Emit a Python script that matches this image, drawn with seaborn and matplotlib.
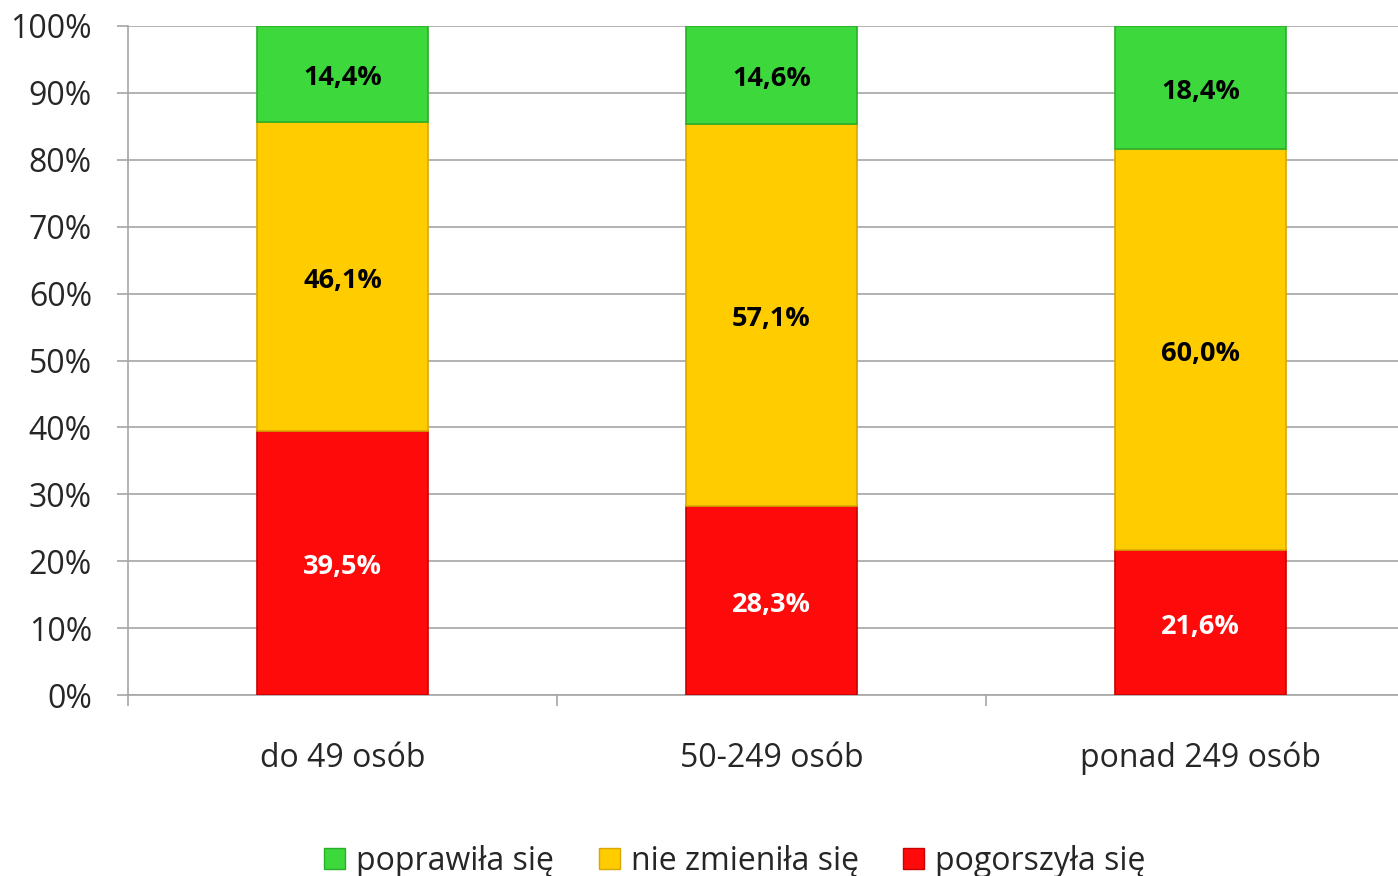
"""
Stacked 100% bar chart: change in situation by company size.
"""

import matplotlib
matplotlib.use("Agg")
import matplotlib.pyplot as plt
from matplotlib.patches import Patch
import seaborn as sns
import pandas as pd

# Data
categories = ["do 49 osób", "50-249 osób", "ponad 249 osób"]
pogorszyla = [39.5, 28.3, 21.6]
nie_zmienila = [46.1, 57.1, 60.0]
poprawila = [14.4, 14.6, 18.4]

series_names = ["pogorszyła się", "nie zmieniła się", "poprawiła się"]
series_values = [pogorszyla, nie_zmienila, poprawila]
series_colors = ["#FF0A0A", "#FFCC00", "#3CD83C"]
edge_colors = ["#C80000", "#D9A800", "#2AAE2A"]
label_colors = ["white", "black", "black"]

GRID = "#A6A6A6"


def fmt(v: float) -> str:
    return f"{v:.1f}%".replace(".", ",")


def main() -> None:
    sns.set_style("white")
    plt.rcParams["font.family"] = ["Open Sans", "DejaVu Sans"]

    fig = plt.figure(figsize=(13.98, 8.76), dpi=100)
    ax = fig.add_axes([128 / 1398, 181 / 876, 1287 / 1398, 669 / 876])

    bottom = [0.0] * len(categories)
    for name, vals, col, ec, lc in zip(series_names, series_values, series_colors,
                                       edge_colors, label_colors):
        df = pd.DataFrame({"kat": categories, "val": vals})
        sns.barplot(data=df, x="kat", y="val", order=categories, color=col,
                    width=0.4, bottom=bottom, edgecolor=ec, linewidth=1.2,
                    saturation=1, ax=ax, zorder=3)
        cont = ax.containers[-1]
        anns = ax.bar_label(cont, labels=[fmt(v) for v in vals], label_type="center",
                            color=lc, fontsize=19.5, fontweight="bold")
        # nudge labels down a little, like the original
        for a in anns:
            a.xyann = (0, -3)
        bottom = [b + v for b, v in zip(bottom, vals)]

    ax.set_xlim(-0.5, 2.5)
    ax.set_ylim(0, 100)
    ax.set_yticks(range(0, 101, 10))
    ax.set_yticklabels([f"{t}%" for t in range(0, 101, 10)])
    ax.set_xlabel("")
    ax.set_ylabel("")

    ax.yaxis.grid(True, color=GRID, linewidth=1.2)
    ax.set_axisbelow(True)
    for s in ["top", "right"]:
        ax.spines[s].set_visible(False)
    for s in ["left", "bottom"]:
        ax.spines[s].set_color(GRID)
        ax.spines[s].set_linewidth(1.2)

    ax.tick_params(axis="y", length=8, width=1.2, color=GRID, pad=18,
                   labelsize=23, direction="out", left=True)
    ax.set_xticks([0, 1, 2])
    ax.set_xticks([-0.5, 0.5, 1.5, 2.5], minor=True)
    ax.tick_params(axis="x", which="major", length=0, pad=33.5, labelsize=23)
    ax.tick_params(axis="x", which="minor", length=8, width=1.2, color=GRID,
                   direction="out", bottom=True)

    handles = [Patch(facecolor=series_colors[i], edgecolor=edge_colors[i],
                     label=series_names[i]) for i in [2, 1, 0]]
    fig.legend(handles=handles, loc="center", bbox_to_anchor=(735 / 1398, 15 / 876),
               ncol=3, frameon=False, fontsize=23, handlelength=0.65,
               handleheight=0.65, handletextpad=0.35, columnspacing=1.4)

    fig.savefig("out.png", dpi=100)


if __name__ == "__main__":
    main()
